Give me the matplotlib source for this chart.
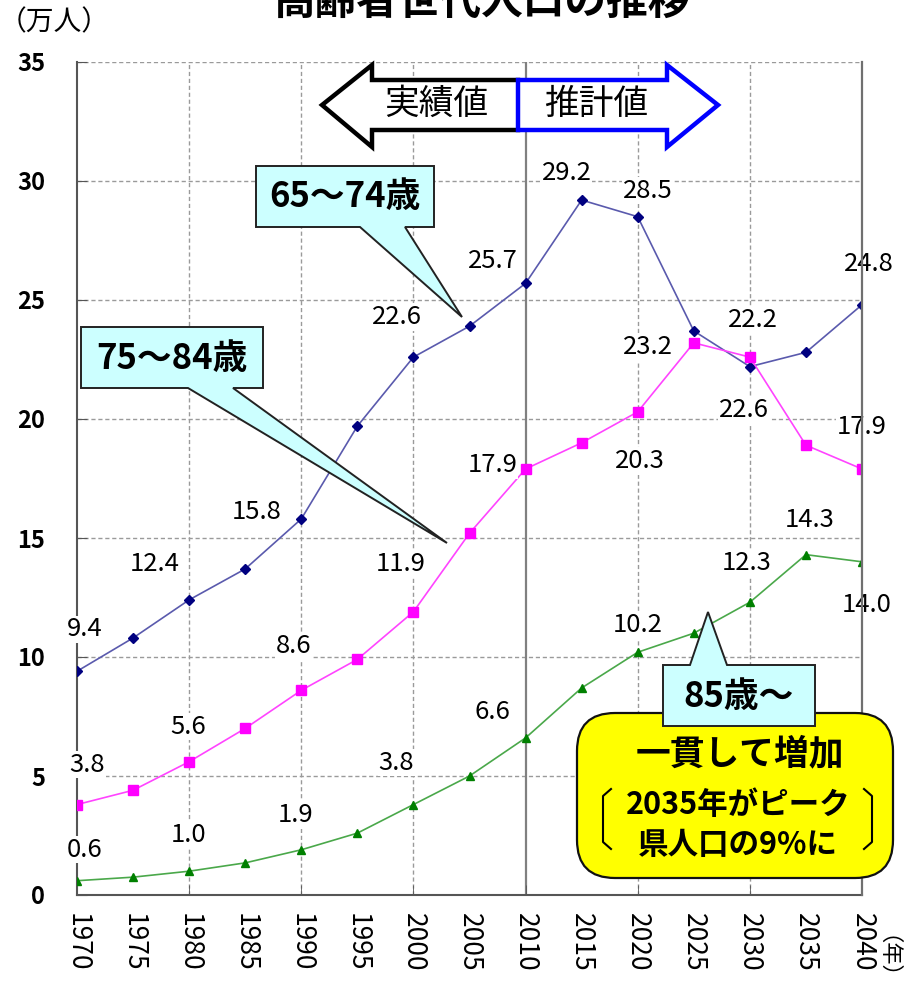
import matplotlib
matplotlib.use('Agg')
import matplotlib.pyplot as plt
import matplotlib.transforms as mtransforms
from matplotlib.patches import Polygon, FancyBboxPatch
from matplotlib.lines import Line2D

plt.rcParams['font.family'] = ['Noto Sans CJK JP', 'DejaVu Sans']

# data (万人)
years = [1970, 1975, 1980, 1985, 1990, 1995, 2000, 2005, 2010,
         2015, 2020, 2025, 2030, 2035, 2040]
age65_74 = [9.4, 10.8, 12.4, 13.7, 15.8, 19.7, 22.6, 23.9, 25.7,
            29.2, 28.5, 23.7, 22.2, 22.8, 24.8]
age75_84 = [3.8, 4.4, 5.6, 7.0, 8.6, 9.9, 11.9, 15.2, 17.9,
            19.0, 20.3, 23.2, 22.6, 18.9, 17.9]
age85_over = [0.6, 0.75, 1.0, 1.35, 1.9, 2.6, 3.8, 5.0, 6.6,
              8.7, 10.2, 11.0, 12.3, 14.3, 14.0]

# which years get a value label, and where the label sits (pixel offset)
lbl_65 = {1970: (8, 42), 1980: (-34, 36), 1990: (-45, 7), 2000: (-16, 40),
          2010: (-33, 22), 2015: (-15, 27), 2020: (10, 26), 2030: (3, 47),
          2040: (7, 41)}
lbl_75 = {1970: (10, 40), 1980: (-1, 35), 1990: (-8, 44), 2000: (-13, 48),
          2010: (-33, 4), 2020: (2, -49), 2025: (-46, -4), 2030: (-6, -53),
          2040: (0, 42)}
lbl_85 = {1970: (8, 31), 1980: (-1, 36), 1990: (-6, 35), 2000: (-17, 42),
          2010: (-33, 26), 2020: (0, 27), 2030: (-3, 39), 2035: (4, 35),
          2040: (5, -43)}

W, H = 906, 986
fig = plt.figure(figsize=(W / 100, H / 100), dpi=100)
ax = fig.add_axes([77 / W, (H - 895) / H, (862 - 77) / W, (895 - 62) / H])

# pixel coords (y down) -> figure
pix = mtransforms.Affine2D().scale(1 / W, -1 / H).translate(0, 1) + fig.transFigure

ax.set_xlim(1970, 2040)
ax.set_ylim(0, 35)

grid_kw = dict(color='#9a9a9a', lw=1.0, linestyle=(0, (3, 2)), zorder=1)
for v in range(5, 36, 5):
    ax.axhline(v, **grid_kw)
for yr in [1980, 1990, 2000, 2020, 2030]:
    ax.axvline(yr, **grid_kw)
ax.axvline(2010, color='#808080', lw=1.6, zorder=1.5)

ax.plot(years, age65_74, color='#5a5aad', lw=1.2, marker='D', ms=5,
        mfc='#000080', mec='#000080', zorder=3)
ax.plot(years, age75_84, color='#ff44ff', lw=1.2, marker='s', ms=7,
        mfc='#ff00ff', mec='#ff00ff', zorder=3)
ax.plot(years, age85_over, color='#4aa84a', lw=1.2, marker='^', ms=6,
        mfc='#008000', mec='#008000', zorder=3)

for series, lbls in [(age65_74, lbl_65), (age75_84, lbl_75), (age85_over, lbl_85)]:
    for yr, (dx, dy) in lbls.items():
        v = series[years.index(yr)]
        ax.annotate(f'{v:.1f}', (yr, v), xytext=(dx, dy), textcoords='offset pixels',
                    ha='center', va='center', fontsize=18.5,
                    bbox=dict(fc='white', ec='none', pad=0.5), zorder=5)

ax.set_xticks(years)
ax.set_xticklabels([str(y) for y in years], rotation=-90, fontsize=19)
ax.set_xticks(range(1970, 2041, 10), minor=True)
ax.xaxis.remove_overlapping_locs = False
ax.tick_params(axis='x', which='major', length=0, pad=13)
ax.tick_params(axis='x', which='minor', length=7, direction='in', color='#555555')
ax.set_yticks(range(0, 36, 5))
ax.set_yticklabels([str(v) for v in range(0, 36, 5)], fontsize=17, fontweight='bold')
ax.tick_params(axis='y', length=7, direction='in', pad=23, color='#555555')

ax.spines['top'].set_visible(False)
for s in ['left', 'bottom']:
    ax.spines[s].set_color('#555555')
    ax.spines[s].set_linewidth(1.5)
ax.spines['right'].set_color('#707070')
ax.spines['right'].set_linewidth(1.6)
ax.spines['right'].set_zorder(10)


def ftext(x, y, s, zorder=8, **kw):
    fig.text(x / W, 1 - y / H, s, ha='center', va='center', zorder=zorder, **kw)


ftext(482, 2, '高齢者世代人口の推移', fontsize=30, fontweight='bold')
ftext(54, 22, '（万人）', fontsize=20)
ftext(875, 968, '（年）', fontsize=16, rotation=-90)

# 実績値 / 推計値 arrow
fig.add_artist(Polygon([(518, 80), (372, 80), (372, 65), (322, 105), (372, 147),
                        (372, 130), (518, 130)], closed=True, transform=pix,
                       fc='white', ec='none', zorder=5))
fig.add_artist(Line2D([518, 372, 372, 322, 372, 372, 518],
                      [80, 80, 65, 105, 147, 130, 130], transform=pix,
                      color='black', lw=3.2, solid_joinstyle='miter', zorder=6))
fig.add_artist(Polygon([(518, 80), (667, 80), (667, 65), (718, 105), (667, 147),
                        (667, 130), (518, 130)], closed=True, transform=pix,
                       fc='white', ec='#0000ff', lw=3.2, joinstyle='miter', zorder=6))
ftext(436, 104, '実績値', fontsize=25)
ftext(596, 104, '推計値', fontsize=25)

# callouts
callout_kw = dict(closed=True, transform=pix, fc='#ccffff', ec='#222222', lw=1.4)
fig.add_artist(Polygon([(256, 166), (434, 166), (434, 227), (405, 227), (462, 317),
                        (360, 227), (256, 227)], zorder=6, **callout_kw))
ftext(345, 197, '65～74歳', fontsize=25, fontweight='bold')

fig.add_artist(Polygon([(81, 327), (263, 327), (263, 388), (233, 388), (447, 543),
                        (188, 388), (81, 388)], zorder=6, **callout_kw))
ftext(172, 358, '75～84歳', fontsize=25, fontweight='bold')

fig.add_artist(FancyBboxPatch((577, 713), 316, 165,
                              boxstyle='round,pad=0,rounding_size=38',
                              transform=pix, fc='#ffff00', ec='#111111', lw=1.6, zorder=6))
fig.add_artist(Polygon([(663, 665), (690, 665), (708, 612), (727, 665), (815, 665),
                        (815, 726), (663, 726)], zorder=7, **callout_kw))
ftext(739, 696, '85歳～', fontsize=25, fontweight='bold')
ftext(740, 754, '一貫して増加', fontsize=25, fontweight='bold')
ftext(738, 805, '2035年がピーク', fontsize=22, fontweight='bold')
ftext(738, 845, '県人口の9%に', fontsize=22, fontweight='bold')
fig.add_artist(Line2D([611, 603, 603, 611], [789, 796, 842, 849], transform=pix,
                      color='black', lw=1.5, zorder=8))
fig.add_artist(Line2D([864, 872, 872, 864], [789, 796, 842, 849], transform=pix,
                      color='black', lw=1.5, zorder=8))

fig.savefig('out.png', dpi=100)
